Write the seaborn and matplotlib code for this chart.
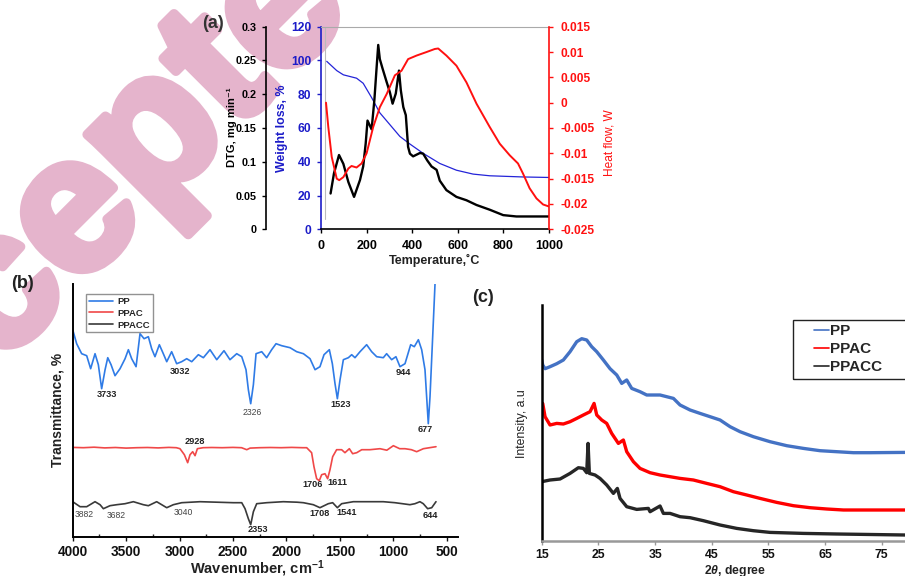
import numpy as np
import pandas as pd
import matplotlib
matplotlib.use("Agg")
import matplotlib.pyplot as plt
import matplotlib.patheffects as pe
from matplotlib.patches import Rectangle
from matplotlib.ticker import MultipleLocator
import seaborn as sns

# ---------------- data: (a) thermal analysis ----------------
TEMP_DTG = [42, 57, 79, 98, 120, 145, 171, 185, 196, 204, 222, 234, 244, 251, 258, 270,
            288, 302, 314, 328, 342, 350, 361, 372, 382, 390, 404, 434, 448, 466, 485,
            507, 521, 550, 594, 638, 682, 740, 799, 857, 1000]
DTG = [0.053, 0.083, 0.110, 0.097, 0.070, 0.048, 0.073, 0.093, 0.127, 0.161, 0.148,
       0.191, 0.240, 0.273, 0.252, 0.238, 0.218, 0.203, 0.186, 0.201, 0.235, 0.206,
       0.181, 0.169, 0.122, 0.112, 0.108, 0.113, 0.112, 0.102, 0.093, 0.088, 0.072,
       0.058, 0.048, 0.043, 0.036, 0.029, 0.021, 0.019, 0.019]

TEMP_W = [25, 69, 98, 156, 185, 222, 258, 302, 346, 390, 448, 521, 594, 667, 740, 886, 1000]
WEIGHT = [99.5, 94, 91.5, 89.5, 86.5, 78, 69, 62, 55, 50.5, 45, 39, 35, 32.7, 31.7, 31, 30.7]

TEMP_HF = [22, 32, 47, 69, 80, 98, 120, 134, 156, 178, 200, 229, 258, 288, 324, 353, 382,
           419, 463, 499, 514, 550, 594, 638, 682, 740, 784, 828, 864, 886, 915, 945, 974, 1000]
HEAT = [0.0, -0.0048, -0.0107, -0.015, -0.0153, -0.0147, -0.013, -0.0125, -0.0128,
        -0.012, -0.010, -0.0048, -0.0009, 0.0017, 0.0054, 0.0063, 0.0086, 0.0093, 0.0100,
        0.0106, 0.0107, 0.0093, 0.0073, 0.0040, -0.0002, -0.0048, -0.0081, -0.0104,
        -0.012, -0.014, -0.0169, -0.0189, -0.0201, -0.0205]
HF_TICKS = [-0.025, -0.02, -0.015, -0.01, -0.005, 0, 0.005, 0.01, 0.015]
HF_LABELS = ["-0.025", "-0.02", "-0.015", "-0.01", "-0.005", "0", "0.005", "0.01", "0.015"]
DTG_TICKS = [0, 0.05, 0.1, 0.15, 0.2, 0.25, 0.3]
DTG_LABELS = ["0", "0.05", "0.1", "0.15", "0.2", "0.25", "0.3"]

# ---------------- data: (b) FTIR ----------------
WN_PP = [4000, 3963, 3916, 3869, 3832, 3791, 3760, 3729, 3697, 3672, 3641, 3604, 3557, 3510,
         3479, 3448, 3407, 3370, 3332, 3292, 3261, 3230, 3189, 3152, 3120, 3074, 3027, 2980,
         2933, 2886, 2824, 2777, 2715, 2652, 2584, 2528, 2465, 2418, 2378, 2356, 2334, 2309,
         2284, 2231, 2185, 2138, 2097, 2044, 1966, 1904, 1841, 1779, 1732, 1686, 1648, 1598,
         1570, 1545, 1523, 1498, 1467, 1420, 1389, 1358, 1311, 1249, 1202, 1155, 1093, 1062,
         1015, 975, 937, 890, 837, 803, 765, 734, 703, 672, 656, 631, 609]
T_PP = [207, 193, 183, 181, 168, 183, 172, 148, 167, 179, 172, 161, 168, 178, 187, 178, 170,
        203, 198, 200, 188, 180, 192, 183, 175, 185, 173, 175, 178, 175, 182, 179, 187, 177,
        186, 177, 183, 180, 167, 147, 133, 152, 183, 185, 179, 187, 193, 191, 189, 185, 183,
        178, 167, 170, 182, 187, 173, 153, 138, 157, 177, 179, 182, 179, 185, 192, 185, 180,
        179, 183, 177, 180, 170, 173, 192, 190, 197, 187, 167, 113, 140, 200, 253]

WN_PPAC = [4000, 3900, 3800, 3700, 3600, 3500, 3400, 3300, 3200, 3100, 3030, 2996, 2955, 2924,
           2902, 2877, 2855, 2833, 2780, 2700, 2600, 2500, 2420, 2371, 2340, 2250, 2150, 2050,
           1950, 1850, 1810, 1764, 1742, 1717, 1692, 1670, 1639, 1614, 1592, 1567, 1530, 1483,
           1452, 1411, 1380, 1342, 1295, 1218, 1124, 1060, 999, 940, 890, 830, 781, 718, 660, 600]
T_PPAC = [89.3, 89, 89.5, 88.8, 89.2, 88.6, 89, 89.2, 88.8, 89.3, 89, 88, 82, 74, 82, 85, 81,
          88, 89, 89.2, 89, 89.3, 89, 87, 88.6, 89, 89.2, 89, 89.3, 89, 89, 84, 70, 58, 56, 62,
          63, 58, 67, 80, 87, 87, 84, 88, 83, 84, 87, 87, 88, 86.5, 91, 88, 88, 87, 85, 88, 89, 90]

WN_PPACC = [4000, 3931, 3869, 3791, 3744, 3713, 3651, 3588, 3510, 3432, 3339, 3292, 3214, 3120,
            3058, 2980, 2808, 2650, 2496, 2418, 2387, 2356, 2334, 2309, 2278, 2185, 2029, 1900,
            1841, 1748, 1686, 1608, 1567, 1523, 1483, 1374, 1249, 1093, 984, 844, 797, 750,
            719, 678, 640, 600]
T_PPACC = [35, 30, 30, 35, 32, 28, 31, 32, 33, 35, 32, 31, 35, 29, 32, 34, 35, 34.5, 34, 34,
           28, 18, 12, 25, 33, 34, 35, 34.5, 34, 32, 29, 33, 34, 29, 33, 35, 35, 35, 34, 32,
           33, 35, 33, 28, 29, 35]

FT_LABELS = ["3733", "3032", "2326", "1523", "944", "677", "2928", "1706", "1611",
             "3882", "3682", "3040", "2353", "1708", "1541", "644"]
FT_LABEL_X = [3682, 2996, 2316, 1489, 906, 697, 2855, 1757, 1523, 3891, 3594, 2964, 2263,
              1692, 1436, 650]
FT_LABEL_Y = [142.7, 165.7, 124, 132.7, 164, 107.3, 95, 52.7, 54.3, 22.3, 21, 24.3, 7.3,
              23.3, 24, 20.7]
FT_LABEL_BOLD = [True, True, False, True, True, True, True, True, True, False, False, False,
                 True, True, True, True]

# ---------------- data: (c) XRD ----------------
TH_PP = [15.0, 15.18, 15.59, 16.47, 17.65, 18.82, 20.0, 21.18, 22.06, 22.94, 23.82, 24.71,
         25.88, 27.06, 28.24, 29.12, 30.0, 30.88, 32.35, 33.53, 34.71, 35.88, 37.06, 38.24,
         39.41, 41.18, 42.94, 44.71, 46.47, 48.24, 50.0, 52.35, 55.29, 58.24, 61.18, 64.12,
         67.06, 70.0, 72.94, 79.12]
I_PP = [180.7, 175.7, 172, 174, 177, 180.7, 189, 199, 202, 200.7, 194, 189, 180.7, 172,
        165.7, 157.3, 160.7, 152.3, 149, 145.7, 145.7, 145.7, 144, 142.3, 135.7, 130.7,
        127.3, 124, 120.7, 114, 109, 104, 99, 95, 92.3, 90, 89, 88, 88, 88.3]

TH_PPAC = [15.18, 15.59, 16.47, 17.65, 18.82, 20.0, 21.18, 22.35, 23.53, 24.24, 24.71, 25.59,
           26.47, 27.35, 28.53, 29.41, 30.0, 31.18, 32.35, 34.12, 35.88, 37.65, 39.41, 41.76,
           44.12, 46.47, 48.82, 51.18, 53.53, 56.47, 59.41, 62.35, 65.29, 68.24, 71.18, 74.12,
           79.12]
I_PPAC = [137.3, 124, 115.7, 117.3, 116.7, 119, 122.3, 125.7, 129, 137.3, 125.7, 120.7,
          117.3, 107.3, 97.3, 100.7, 89, 79, 72.3, 68, 65.7, 64, 62.3, 60.7, 57.3, 54, 49,
          45.7, 42.3, 38.3, 35, 33, 31.7, 30.7, 30.7, 30.7, 30.7]

TH_PPACC = [15.0, 16.47, 18.24, 20.0, 21.47, 22.35, 22.94, 23.18, 23.41, 24.41, 25.29, 26.47,
            27.65, 28.35, 28.82, 30.0, 31.76, 33.82, 34.12, 35.88, 36.47, 37.65, 39.41, 41.18,
            43.53, 46.47, 49.41, 52.35, 55.29, 61.18, 67.06, 79.12]
I_PPACC = [59, 60.7, 61.7, 67.3, 73, 72.3, 68, 97.3, 67.3, 65.7, 62.3, 55.7, 47.3, 52.3,
           42.3, 34, 31.3, 32.3, 29, 34.7, 27.3, 27.3, 24, 23, 20, 15.7, 12.3, 10, 8.3, 7.3,
           6.7, 5.7]

SERIES = ["PP", "PPAC", "PPACC"]

# ---------------- style ----------------
sns.set_style("white")
plt.rcParams["font.family"] = ["Liberation Sans", "DejaVu Sans"]
plt.rcParams["font.weight"] = "bold"
plt.rcParams["mathtext.fontset"] = "custom"
plt.rcParams["mathtext.rm"] = "Liberation Sans:bold"
plt.rcParams["mathtext.it"] = "Liberation Sans:bold:italic"
plt.rcParams["mathtext.bf"] = "Liberation Sans:bold"

W, H = 905, 576
fig = plt.figure(figsize=(W / 100, H / 100), dpi=100)


def px_axes(l, t, r, b):
    ax = fig.add_axes([l / W, 1 - b / H, (r - l) / W, (b - t) / H])
    ax.set_facecolor("none")
    return ax


def ftxt(x, y, s, **kw):
    kw.setdefault("ha", "center")
    kw.setdefault("va", "center")
    return fig.text(x / W, 1 - y / H, s, **kw)


# watermark
WM = "#E5B4CC"
fig.text(-176 / W, 1 - 542 / H, "Accepted", rotation=45, rotation_mode="anchor",
         ha="left", va="baseline", fontsize=139, fontweight="bold", color=WM,
         zorder=-10, family="Liberation Sans",
         path_effects=[pe.withStroke(linewidth=7, foreground=WM)])

BLUE_A = "#1C1CC8"
RED_A = "#FF1010"

# ---------------- panel (a) ----------------
ax_w = px_axes(321, 26.7, 549, 229.3)
ax_dtg = ax_w.twinx()
ax_hf = ax_w.twinx()
for a in (ax_dtg, ax_hf):
    a.set_facecolor("none")

sns.lineplot(x=TEMP_W, y=WEIGHT, ax=ax_w, color="#2424D8", linewidth=0.9, errorbar=None)
sns.lineplot(x=TEMP_HF, y=HEAT, ax=ax_hf, color=RED_A, linewidth=1.4, errorbar=None)
sns.lineplot(x=TEMP_DTG, y=DTG, ax=ax_dtg, color="black", linewidth=1.7, errorbar=None)

ax_w.set_xlim(0, 1000)
ax_w.set_ylim(0, 120)
ax_w.set_yticks(range(0, 121, 20))
ax_w.set_xticks(range(0, 1001, 200))
ax_w.axvline(18, ymin=0.05, ymax=1, color="#bbbbbb", linewidth=0.8)
ax_w.spines["top"].set_color("#aaaaaa")
ax_w.spines["top"].set_linewidth(0.8)
ax_w.spines["right"].set_visible(False)
ax_w.spines["left"].set_color(BLUE_A)
ax_w.spines["left"].set_linewidth(1.2)
ax_w.spines["bottom"].set_color("black")
ax_w.spines["bottom"].set_linewidth(1.2)
ax_w.tick_params(axis="y", colors=BLUE_A, direction="out", length=3, width=1, pad=4,
                 labelsize=8.7, left=True)
ax_w.tick_params(axis="x", colors="black", direction="out", length=3, width=1, pad=5,
                 labelsize=9, bottom=True)
ax_w.set_xlabel("")
ax_w.set_ylabel("")

ax_dtg.set_ylim(0, 0.3)
ax_dtg.set_yticks(DTG_TICKS, DTG_LABELS)
ax_dtg.spines["left"].set_position(("axes", -55 / 228))
ax_dtg.spines["left"].set_visible(True)
ax_dtg.spines["left"].set_color("black")
ax_dtg.spines["left"].set_linewidth(1.2)
for s in ("right", "top", "bottom"):
    ax_dtg.spines[s].set_visible(False)
ax_dtg.yaxis.set_ticks_position("left")
ax_dtg.tick_params(axis="y", colors="black", direction="out", length=3, width=1, pad=4,
                   labelsize=7.8)
ax_dtg.set_ylabel("")

ax_hf.set_ylim(-0.025, 0.015)
ax_hf.set_yticks(HF_TICKS, HF_LABELS)
for s in ("left", "top", "bottom"):
    ax_hf.spines[s].set_visible(False)
ax_hf.spines["right"].set_color(RED_A)
ax_hf.spines["right"].set_linewidth(1.2)
ax_hf.tick_params(axis="y", colors=RED_A, direction="out", length=3, width=1, pad=5,
                  labelsize=8.6, right=True)
ax_hf.set_ylabel("")

ftxt(213, 24, "(a)", fontsize=13, color="#333333")
ftxt(232, 127, "DTG, mg min\u207b\u00b9", rotation=90, fontsize=8.0, color="black")
ftxt(282, 128, "Weight loss, %", rotation=90, fontsize=8.9, color=BLUE_A)
ftxt(609, 143, "Heat flow, W", rotation=90, fontsize=8.6, color=RED_A, fontweight="normal")
ftxt(435, 260, "Temperature,\u02daC", fontsize=9, color="#222222")

# ---------------- panel (b) ----------------
ax_b = px_axes(72.7, 284, 458, 536.7)
FT_COLORS = ["#2F7BE6", "#F04848", "#3A3A3A"]
ft_data = [(WN_PP, T_PP), (WN_PPAC, T_PPAC), (WN_PPACC, T_PPACC)]
for name, (wn, tv), col in zip(SERIES, ft_data, FT_COLORS):
    sns.lineplot(x=wn, y=tv, ax=ax_b, color=col, linewidth=1.2, label=name, errorbar=None)
ax_b.set_xlim(4000, 394)
ax_b.set_ylim(0, 252.7)
ax_b.set_xticks(range(4000, 499, -500))
ax_b.xaxis.set_minor_locator(MultipleLocator(250))
ax_b.set_yticks([])
for s in ("top", "right"):
    ax_b.spines[s].set_visible(False)
for s in ("left", "bottom"):
    ax_b.spines[s].set_color("black")
    ax_b.spines[s].set_linewidth(1.4)
ax_b.tick_params(axis="x", which="major", direction="out", length=3, width=1, pad=3,
                 labelsize=9.8, bottom=True, colors="#111111")
ax_b.tick_params(axis="x", which="minor", direction="in", length=2, width=1, bottom=True)
ax_b.set_xlabel("")
ax_b.set_ylabel("")
for lab, lx, ly, bold in zip(FT_LABELS, FT_LABEL_X, FT_LABEL_Y, FT_LABEL_BOLD):
    ax_b.text(lx, ly, lab, ha="center", va="center", fontsize=6.6 if bold else 6.2,
              fontweight="bold" if bold else "normal",
              color="#222222" if bold else "#444444")
leg_b = ax_b.legend(loc="upper left", bbox_to_anchor=((86 - 72.7) / 385.3, (536.7 - 294) / 252.7),
                    borderaxespad=0, frameon=True, fancybox=False, fontsize=6.8,
                    handlelength=2.6, handletextpad=0.4, labelspacing=0.3, borderpad=0.3)
leg_b.get_frame().set_edgecolor("#777777")
leg_b.get_frame().set_linewidth(1.0)

ftxt(22, 284, "(b)", fontsize=13, color="#222222")
ftxt(57, 410, "Transmittance, %", rotation=90, fontsize=10, color="#222222")
ftxt(257, 569, "Wavenumber, cm$^{-1}$", fontsize=10.5, color="#222222")

# ---------------- panel (c) ----------------
ax_c = px_axes(541.7, 305, 905, 540.7)
XRD_COLORS = ["#4472C4", "#FF0000", "#262626"]
xrd_data = [(TH_PP, I_PP), (TH_PPAC, I_PPAC), (TH_PPACC, I_PPACC)]
for name, (tt, iv), col in zip(SERIES, xrd_data, XRD_COLORS):
    sns.lineplot(x=tt, y=iv, ax=ax_c, color=col, linewidth=2.4, label=name, errorbar=None)
ax_c.set_xlim(15, 79.1)
ax_c.set_ylim(0, 235.7)
ax_c.set_xticks(range(15, 76, 10))
ax_c.set_yticks([])
for s in ("top", "right"):
    ax_c.spines[s].set_visible(False)
ax_c.spines["left"].set_color("black")
ax_c.spines["left"].set_linewidth(1.8)
ax_c.spines["bottom"].set_color("#999999")
ax_c.spines["bottom"].set_linewidth(1.8)
ax_c.tick_params(axis="x", direction="out", length=3, width=1, pad=3, labelsize=8.8,
                 bottom=True, colors="#999999", labelcolor="#111111")
ax_c.set_xlabel("")
ax_c.set_ylabel("")
leg_c = ax_c.legend(loc="upper left", bbox_to_anchor=((811 - 541.7) / 363.3, (540.7 - 321) / 235.7),
                    borderaxespad=0, frameon=False,
                    prop={"size": 11, "weight": "bold"},
                    handlelength=1.0, handletextpad=0.05, labelspacing=0.27,
                    borderpad=0.2)
for line in leg_c.get_lines():
    line.set_linewidth(1.2)
fig.patches.append(Rectangle((793 / W, 1 - 379 / H), 115 / W, 59 / H,
                             transform=fig.transFigure, fill=False, edgecolor="#222222",
                             linewidth=1.0, clip_on=False))

ftxt(483, 297, "(c)", fontsize=13, color="#222222")
ftxt(522, 424, "Intensity, a.u", rotation=90, fontsize=8.8, color="#222222", fontweight="normal")
ftxt(735, 571, "2$\\it{\\theta}$, degree", fontsize=8.8, color="#222222")

fig.savefig("out.png", dpi=100)
